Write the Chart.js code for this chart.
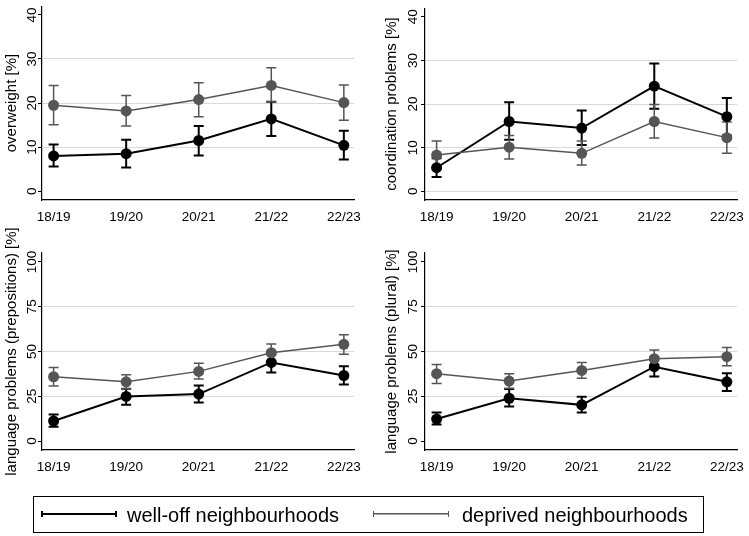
<!DOCTYPE html>
<html>
<head>
<meta charset="utf-8">
<script src="https://cdn.jsdelivr.net/npm/chart.js@4"></script>
<style>
  html, body { margin: 0; padding: 0; background: #fff; }
  body { width: 749px; height: 536px; position: relative; overflow: hidden; font-family: "Liberation Sans", Arial, sans-serif; color: #000; }
  canvas { position: absolute; }
  #c1 { left: 0; top: 0; }
  #c2 { left: 380px; top: 0; }
  #c3 { left: 0; top: 215px; }
  #c4 { left: 380px; top: 215px; }
  .legend-box { position: absolute; left: 33px; top: 496px; width: 669px; height: 35px; border: 1px solid #000; }
  .leg-line { position: absolute; height: 6px; box-sizing: border-box; }
  .leg-text { position: absolute; font-size: 20px; line-height: 20px; white-space: nowrap; }
</style>
</head>
<body>
<canvas id="c1" width="375" height="235"></canvas>
<canvas id="c2" width="369" height="235"></canvas>
<canvas id="c3" width="375" height="275"></canvas>
<canvas id="c4" width="369" height="275"></canvas>

<div class="legend-box"></div>
<div class="leg-line" style="left:41px; top:511px; width:76px; border-left:2px solid #000; border-right:2px solid #000; background:linear-gradient(#000,#000) center/100% 2px no-repeat;"></div>
<div class="leg-text" style="left:127px; top:505px;">well-off neighbourhoods</div>
<div class="leg-line" style="left:373px; top:511px; width:76px; border-left:1.5px solid #555; border-right:1.5px solid #555; background:linear-gradient(#555,#555) center/100% 1.5px no-repeat;"></div>
<div class="leg-text" style="left:462px; top:505px;">deprived neighbourhoods</div>

<script>
const YEARS = ['18/19', '19/20', '20/21', '21/22', '22/23'];
const TICKS_40 = [0, 10, 20, 30, 40];
const TICKS_100 = [0, 25, 50, 75, 100];

// overweight [%]
const owWell   = [8.0, 8.5, 11.5, 16.4, 10.4];
const owWellLo = [5.6, 5.4, 8.1, 12.5, 7.2];
const owWellHi = [10.6, 11.7, 14.8, 20.3, 13.7];
const owDepr   = [19.5, 18.2, 20.8, 24.0, 20.1];
const owDeprLo = [15.1, 14.8, 16.9, 20.3, 16.1];
const owDeprHi = [24.0, 21.7, 24.6, 28.0, 24.1];

// coordination problems [%]
const coWell   = [5.4, 16.0, 14.5, 24.1, 17.1];
const coWellLo = [3.3, 11.8, 10.6, 18.9, 12.8];
const coWellHi = [7.6, 20.4, 18.5, 29.3, 21.4];
const coDepr   = [8.3, 10.1, 8.7, 16.0, 12.3];
const coDeprLo = [5.5, 7.4, 6.0, 12.2, 8.7];
const coDeprHi = [11.5, 12.8, 11.5, 19.9, 15.9];

// language problems (prepositions) [%]
const prWell   = [11.2, 24.9, 26.2, 43.9, 36.6];
const prWellLo = [8.0, 20.2, 21.5, 38.3, 31.6];
const prWellHi = [14.8, 29.2, 31.0, 48.4, 41.7];
const prDepr   = [35.9, 33.1, 38.9, 49.3, 54.0];
const prDeprLo = [30.7, 29.2, 34.6, 44.7, 48.4];
const prDeprHi = [41.1, 37.0, 43.4, 54.2, 59.3];

// language problems (plural) [%]
const plWell   = [12.3, 23.9, 20.2, 41.5, 33.1];
const plWellLo = [9.3, 19.3, 15.9, 36.1, 28.0];
const plWellHi = [15.9, 29.0, 24.7, 46.9, 37.9];
const plDepr   = [37.6, 33.5, 39.4, 46.0, 47.1];
const plDeprLo = [32.1, 29.5, 35.0, 41.2, 42.1];
const plDeprHi = [42.8, 37.6, 43.9, 50.8, 52.3];

const WELL_COLOR = '#000000';
const DEPR_COLOR = '#555555';
const GRID_COLOR = '#d9d9d9';

Chart.defaults.font.family = '"Liberation Sans", Arial, sans-serif';
Chart.defaults.color = '#000';

// draws rcap style error bars under the lines
const errorBars = {
  id: 'errorBars',
  beforeDatasetsDraw(chart) {
    const { ctx, scales: { x, y } } = chart;
    chart.data.datasets.forEach(ds => {
      ctx.save();
      ctx.strokeStyle = ds.borderColor;
      ctx.lineWidth = ds.borderWidth;
      ds.lo.forEach((lo, i) => {
        const px = x.getPixelForValue(i);
        const top = y.getPixelForValue(ds.hi[i]);
        const bot = y.getPixelForValue(lo);
        ctx.beginPath();
        ctx.moveTo(px, top); ctx.lineTo(px, bot);
        ctx.moveTo(px - 5, top); ctx.lineTo(px + 5, top);
        ctx.moveTo(px - 5, bot); ctx.lineTo(px + 5, bot);
        ctx.stroke();
      });
      ctx.restore();
    });
  }
};

function series(values, lo, hi, color, width, order) {
  return {
    data: values.map((v, i) => ({ x: i, y: v })),
    lo, hi,
    borderColor: color,
    backgroundColor: color,
    borderWidth: width,
    pointRadius: 5.5,
    pointBorderWidth: 0,
    pointBackgroundColor: color,
    tension: 0,
    order
  };
}

function makePanel(id, cfg) {
  new Chart(document.getElementById(id), {
    type: 'line',
    data: {
      datasets: [
        series(cfg.well, cfg.wellLo, cfg.wellHi, WELL_COLOR, 2, 1),
        series(cfg.depr, cfg.deprLo, cfg.deprHi, DEPR_COLOR, 1.5, 0)
      ]
    },
    options: {
      responsive: false,
      animation: false,
      layout: { padding: cfg.padding },
      plugins: { legend: { display: false }, tooltip: { enabled: false } },
      scales: {
        x: {
          type: 'linear',
          min: -0.16,
          max: 4.14,
          bounds: 'data',
          afterBuildTicks: s => { s.ticks = YEARS.map((_, i) => ({ value: i })); },
          afterFit: s => { s.height = cfg.xHeight; },
          grid: { display: false },
          border: { color: '#000', width: 1.2 },
          ticks: {
            autoSkip: false,
            maxRotation: 0,
            padding: 1,
            font: { size: 13.5 },
            callback: v => YEARS[v]
          }
        },
        y: {
          type: 'linear',
          min: cfg.yMin,
          max: cfg.yMax,
          bounds: 'data',
          afterBuildTicks: s => { s.ticks = cfg.yTicks.map(v => ({ value: v })); },
          afterFit: s => { s.width = cfg.yWidth; },
          grid: {
            color: c => (c.tick && cfg.gridAt.includes(c.tick.value)) ? GRID_COLOR : 'rgba(0,0,0,0)',
            tickColor: '#000',
            tickLength: 4,
            lineWidth: 1
          },
          border: { color: '#000', width: 1.2 },
          ticks: {
            minRotation: 90,
            maxRotation: 90,
            crossAlign: 'center',
            padding: cfg.tickPad,
            font: { size: 13.5 }
          },
          title: {
            display: true,
            text: cfg.title,
            font: { size: 15 },
            padding: { top: 3, bottom: 0 }
          }
        }
      }
    },
    plugins: [errorBars]
  });
}

makePanel('c1', {
  title: 'overweight [%]',
  well: owWell, wellLo: owWellLo, wellHi: owWellHi,
  depr: owDepr, deprLo: owDeprLo, deprHi: owDeprHi,
  yMin: -2, yMax: 42, yTicks: TICKS_40, gridAt: [10, 20, 30],
  padding: { top: 3, right: 21, bottom: 0, left: 0 },
  yWidth: 42, xHeight: 35, tickPad: -2
});

makePanel('c2', {
  title: 'coordination problems [%]',
  well: coWell, wellLo: coWellLo, wellHi: coWellHi,
  depr: coDepr, deprLo: coDeprLo, deprHi: coDeprHi,
  yMin: -2, yMax: 42, yTicks: TICKS_40, gridAt: [0, 10, 20, 30],
  padding: { top: 3, right: 12, bottom: 0, left: 0 },
  yWidth: 45, xHeight: 35, tickPad: 0
});

makePanel('c3', {
  title: 'language problems (prepositions) [%]',
  well: prWell, wellLo: prWellLo, wellHi: prWellHi,
  depr: prDepr, deprLo: prDeprLo, deprHi: prDeprHi,
  yMin: -5, yMax: 105, yTicks: TICKS_100, gridAt: [25, 50, 75],
  padding: { top: 38, right: 21, bottom: 0, left: 0 },
  yWidth: 42, xHeight: 40, tickPad: -6
});

makePanel('c4', {
  title: 'language problems (plural) [%]',
  well: plWell, wellLo: plWellLo, wellHi: plWellHi,
  depr: plDepr, deprLo: plDeprLo, deprHi: plDeprHi,
  yMin: -5, yMax: 105, yTicks: TICKS_100, gridAt: [25, 50, 75],
  padding: { top: 38, right: 12, bottom: 0, left: 0 },
  yWidth: 45, xHeight: 40, tickPad: -4
});
</script>
</body>
</html>
